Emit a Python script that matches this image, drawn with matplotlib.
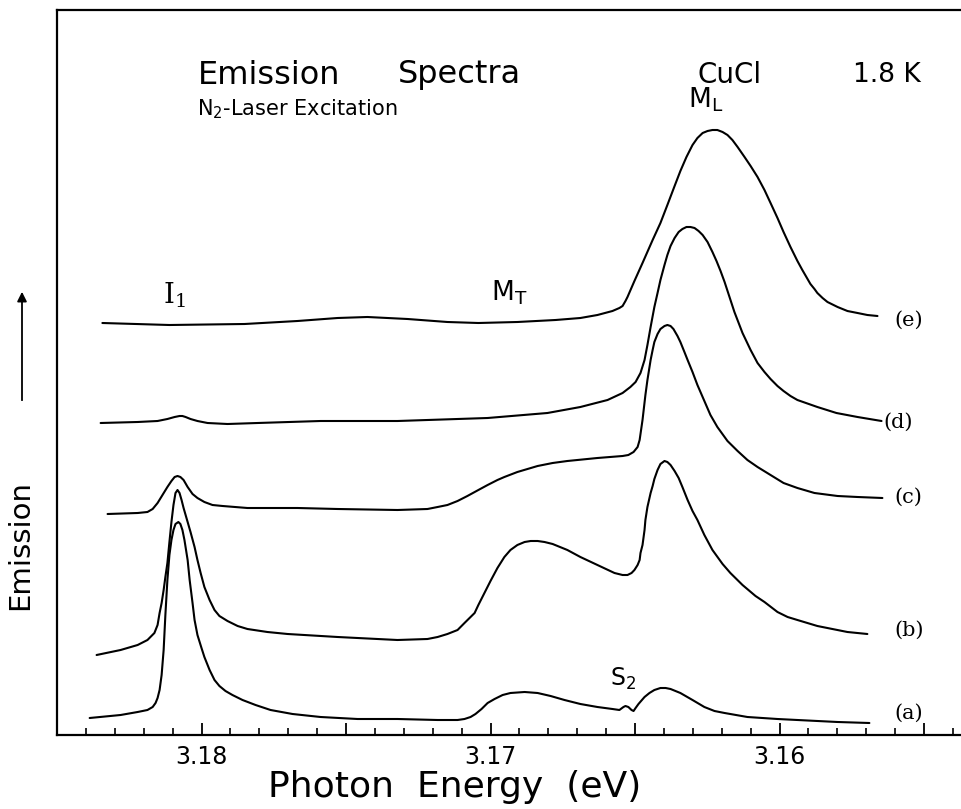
import matplotlib.pyplot as plt
from matplotlib.ticker import MultipleLocator, FuncFormatter

# (photon energy in eV, emission in arb. units)
spec_a = [(3.18387, 1.7), (3.18280, 2.0), (3.18221, 2.3), (3.18187, 2.5), (3.18169, 2.8),
          (3.18159, 3.2), (3.18152, 3.7), (3.18145, 4.5), (3.18138, 6.0), (3.18131, 8.5),
          (3.18125, 12.0), (3.18118, 15.5), (3.18111, 18.0), (3.18104, 19.5), (3.18097, 20.5),
          (3.18090, 21.1), (3.18080, 21.3), (3.18073, 21.1), (3.18066, 20.5), (3.18059, 19.5),
          (3.18048, 17.5), (3.18041, 15.5), (3.18031, 13.2), (3.18024, 11.5), (3.18014, 10.0),
          (3.18000, 8.7), (3.17990, 7.8), (3.17972, 6.5), (3.17955, 5.5), (3.17938, 4.9),
          (3.17917, 4.4), (3.17893, 4.0), (3.17858, 3.5), (3.17813, 3.0), (3.17761, 2.5),
          (3.17685, 2.1), (3.17588, 1.8), (3.17460, 1.6), (3.17322, 1.6), (3.17183, 1.5),
          (3.17114, 1.5), (3.17090, 1.6), (3.17069, 1.8), (3.17052, 2.1), (3.17031, 2.6),
          (3.17010, 3.2), (3.16986, 3.6), (3.16958, 4.0), (3.16931, 4.2), (3.16882, 4.3),
          (3.16837, 4.2), (3.16792, 3.9), (3.16744, 3.5), (3.16689, 3.1), (3.16630, 2.8),
          (3.16578, 2.6), (3.16554, 2.5), (3.16540, 2.8), (3.16533, 2.9), (3.16523, 2.8),
          (3.16512, 2.5), (3.16505, 2.4), (3.16498, 2.7), (3.16488, 3.1), (3.16467, 3.8),
          (3.16450, 4.2), (3.16433, 4.5), (3.16412, 4.7), (3.16394, 4.7), (3.16377, 4.6),
          (3.16343, 4.2), (3.16301, 3.5), (3.16260, 2.8), (3.16225, 2.4), (3.16190, 2.2),
          (3.16111, 1.8), (3.16007, 1.6), (3.15938, 1.5), (3.15799, 1.3), (3.15689, 1.2)]

spec_b = [(3.18363, 8.0), (3.18280, 8.5), (3.18221, 9.0), (3.18187, 9.5), (3.18163, 10.2),
          (3.18152, 11.0), (3.18145, 12.2), (3.18138, 13.2), (3.18131, 14.5), (3.18125, 15.8),
          (3.18118, 17.2), (3.18111, 19.3), (3.18104, 21.3), (3.18097, 23.0), (3.18090, 24.2),
          (3.18083, 24.5), (3.18076, 24.2), (3.18069, 23.5), (3.18062, 22.7), (3.18055, 22.0),
          (3.18048, 21.3), (3.18038, 20.3), (3.18024, 18.8), (3.18014, 17.5), (3.18003, 16.2),
          (3.17990, 14.8), (3.17972, 13.5), (3.17955, 12.5), (3.17938, 11.9), (3.17910, 11.4),
          (3.17875, 10.9), (3.17841, 10.6), (3.17772, 10.3), (3.17702, 10.1), (3.17529, 9.8),
          (3.17322, 9.5), (3.17218, 9.6), (3.17183, 9.8), (3.17149, 10.1), (3.17114, 10.5),
          (3.17090, 11.2), (3.17069, 11.8), (3.17055, 12.2), (3.17042, 13.0), (3.17021, 14.2),
          (3.17000, 15.4), (3.16976, 16.7), (3.16952, 17.8), (3.16931, 18.5), (3.16907, 19.0),
          (3.16882, 19.3), (3.16861, 19.4), (3.16837, 19.4), (3.16813, 19.3), (3.16785, 19.1),
          (3.16734, 18.5), (3.16689, 17.8), (3.16630, 17.0), (3.16571, 16.2), (3.16543, 16.0),
          (3.16526, 16.0), (3.16512, 16.2), (3.16502, 16.5), (3.16491, 17.0), (3.16484, 17.5),
          (3.16481, 18.2), (3.16474, 19.0), (3.16467, 20.5), (3.16464, 21.5), (3.16457, 22.8),
          (3.16446, 24.2), (3.16439, 24.9), (3.16433, 25.6), (3.16422, 26.5), (3.16412, 27.1),
          (3.16398, 27.4), (3.16388, 27.3), (3.16377, 27.0), (3.16363, 26.4), (3.16349, 25.7),
          (3.16336, 24.8), (3.16318, 23.5), (3.16301, 22.4), (3.16284, 21.5), (3.16260, 20.0),
          (3.16232, 18.5), (3.16197, 17.1), (3.16170, 16.2), (3.16128, 15.0), (3.16083, 13.9),
          (3.16052, 13.3), (3.16007, 12.3), (3.15972, 11.8), (3.15938, 11.5), (3.15869, 10.9),
          (3.15765, 10.3), (3.15696, 10.1)]

spec_c = [(3.18325, 22.1), (3.18221, 22.2), (3.18187, 22.3), (3.18169, 22.6), (3.18152, 23.2),
          (3.18135, 24.0), (3.18118, 24.8), (3.18104, 25.4), (3.18093, 25.8), (3.18083, 25.9),
          (3.18073, 25.8), (3.18062, 25.5), (3.18048, 24.8), (3.18031, 24.1), (3.18014, 23.7),
          (3.17990, 23.3), (3.17962, 23.0), (3.17927, 22.9), (3.17841, 22.7), (3.17668, 22.7),
          (3.17529, 22.6), (3.17322, 22.5), (3.17218, 22.6), (3.17183, 22.8), (3.17149, 23.0),
          (3.17114, 23.4), (3.17080, 23.9), (3.17042, 24.5), (3.17010, 25.0), (3.16976, 25.5),
          (3.16952, 25.8), (3.16907, 26.3), (3.16837, 26.9), (3.16785, 27.2), (3.16734, 27.4),
          (3.16630, 27.7), (3.16543, 27.9), (3.16523, 28.0), (3.16505, 28.3), (3.16491, 28.8),
          (3.16484, 29.5), (3.16474, 31.5), (3.16464, 34.0), (3.16457, 35.5), (3.16446, 37.5),
          (3.16439, 38.5), (3.16433, 39.3), (3.16422, 40.1), (3.16412, 40.6), (3.16398, 40.9),
          (3.16388, 41.0), (3.16377, 40.9), (3.16367, 40.6), (3.16353, 39.9), (3.16343, 39.3),
          (3.16329, 38.3), (3.16318, 37.5), (3.16301, 36.3), (3.16284, 35.0), (3.16260, 33.4),
          (3.16239, 32.0), (3.16215, 30.8), (3.16180, 29.4), (3.16145, 28.4), (3.16111, 27.5),
          (3.16076, 26.8), (3.16031, 26.0), (3.15986, 25.2), (3.15938, 24.7), (3.15879, 24.2),
          (3.15799, 23.9), (3.15730, 23.8), (3.15644, 23.7)]

spec_d = [(3.18349, 31.2), (3.18221, 31.3), (3.18152, 31.4), (3.18118, 31.6), (3.18093, 31.8),
          (3.18076, 31.9), (3.18066, 31.9), (3.18055, 31.8), (3.18038, 31.6), (3.18014, 31.4),
          (3.17979, 31.2), (3.17910, 31.1), (3.17806, 31.2), (3.17588, 31.4), (3.17322, 31.4),
          (3.17010, 31.7), (3.16803, 32.2), (3.16689, 32.8), (3.16595, 33.5), (3.16543, 34.2),
          (3.16516, 34.8), (3.16498, 35.3), (3.16481, 36.2), (3.16467, 37.5), (3.16457, 39.0),
          (3.16446, 40.8), (3.16433, 42.8), (3.16422, 44.2), (3.16412, 45.5), (3.16398, 47.0),
          (3.16388, 48.0), (3.16377, 48.9), (3.16363, 49.7), (3.16349, 50.3), (3.16336, 50.6),
          (3.16322, 50.8), (3.16308, 50.8), (3.16294, 50.7), (3.16280, 50.4), (3.16266, 50.0),
          (3.16249, 49.3), (3.16232, 48.3), (3.16218, 47.4), (3.16204, 46.4), (3.16190, 45.3),
          (3.16173, 43.8), (3.16156, 42.3), (3.16128, 40.2), (3.16100, 38.5), (3.16076, 37.2),
          (3.16052, 36.3), (3.16031, 35.6), (3.16007, 34.9), (3.15986, 34.4), (3.15962, 33.9),
          (3.15938, 33.5), (3.15869, 32.8), (3.15803, 32.2), (3.15730, 31.8), (3.15647, 31.4)]

spec_e = [(3.18343, 41.2), (3.18111, 41.0), (3.17851, 41.1), (3.17668, 41.4), (3.17529, 41.7),
          (3.17426, 41.8), (3.17287, 41.6), (3.17149, 41.3), (3.17042, 41.2), (3.16907, 41.3),
          (3.16775, 41.5), (3.16689, 41.7), (3.16630, 42.0), (3.16578, 42.4), (3.16554, 42.7),
          (3.16543, 42.9), (3.16533, 43.4), (3.16526, 43.8), (3.16502, 45.4), (3.16474, 47.2),
          (3.16439, 49.5), (3.16412, 51.2), (3.16388, 53.0), (3.16363, 54.9), (3.16343, 56.4),
          (3.16322, 57.8), (3.16301, 59.0), (3.16284, 59.7), (3.16266, 60.2), (3.16249, 60.4),
          (3.16232, 60.5), (3.16215, 60.5), (3.16197, 60.3), (3.16180, 60.0), (3.16163, 59.5),
          (3.16145, 58.8), (3.16121, 57.8), (3.16100, 56.9), (3.16076, 55.8), (3.16052, 54.5),
          (3.16031, 53.2), (3.16007, 51.7), (3.15986, 50.3), (3.15962, 48.8), (3.15938, 47.4),
          (3.15921, 46.5), (3.15903, 45.6), (3.15893, 45.1), (3.15879, 44.6), (3.15869, 44.2),
          (3.15851, 43.7), (3.15834, 43.3), (3.15799, 42.8), (3.15765, 42.4), (3.15730, 42.2),
          (3.15696, 42.0), (3.15661, 41.9)]

spectra = [spec_a, spec_b, spec_c, spec_d, spec_e]
curve_labels = ["(a)", "(b)", "(c)", "(d)", "(e)"]
label_pos = [(3.15602, 2.2), (3.15602, 10.5), (3.15602, 23.8), (3.15640, 31.3), (3.15602, 41.5)]

fig = plt.figure(figsize=(9.61, 8.09), dpi=100)
ax = fig.add_axes([57 / 961, 74 / 809, 1 - 57 / 961, 725 / 809])

for pts in spectra:
    E, I = zip(*pts)
    ax.plot(E, I, color="black", lw=1.5, solid_joinstyle="round", solid_capstyle="round")

for lab, (x, y) in zip(curve_labels, label_pos):
    ax.text(x, y, lab, fontsize=15, family="DejaVu Serif", ha="left", va="center")

ax.set_xlim(3.18500, 3.15372)
ax.set_ylim(0, 72.5)

ax.spines["right"].set_visible(False)
for s in ["left", "top", "bottom"]:
    ax.spines[s].set_linewidth(1.6)

ax.xaxis.set_major_locator(MultipleLocator(0.005))
ax.xaxis.set_minor_locator(MultipleLocator(0.001))
ax.xaxis.set_major_formatter(FuncFormatter(
    lambda v, p: f"{v:.2f}" if abs(v * 100 - round(v * 100)) < 1e-6 else ""))
ax.tick_params(axis="x", which="major", direction="in", length=9, width=1.3,
               labelsize=17, pad=7, top=False)
ax.tick_params(axis="x", which="minor", direction="in", length=5, width=1.2, top=False)
ax.set_yticks([])

# annotations
ax.text(3.18014, 66.0, "Emission", fontsize=23, ha="left", va="center")
ax.text(3.17322, 66.0, "Spectra", fontsize=23, ha="left", va="center")
ax.text(3.16284, 66.0, "CuCl", fontsize=20, ha="left", va="center")
ax.text(3.15747, 66.0, "1.8 K", fontsize=19, ha="left", va="center")
ax.text(3.18014, 62.6, r"N$_2$-Laser Excitation", fontsize=15, ha="left", va="center")
ax.text(3.16256, 63.5, r"$\mathrm{M_L}$", fontsize=19, ha="center", va="center")
ax.text(3.16934, 44.2, r"$\mathrm{M_T}$", fontsize=19, ha="center", va="center")
ax.text(3.18093, 44.0, r"$\mathrm{I}_1$", fontsize=20, ha="center", va="center",
        math_fontfamily="dejavuserif")
ax.text(3.16543, 5.6, r"$\mathrm{S_2}$", fontsize=17, ha="center", va="center")

fig.text(455 / 961, 22 / 809, "Photon  Energy  (eV)", fontsize=26, ha="center", va="center")
fig.text(20 / 961, 264 / 809, "Emission", fontsize=21, rotation=90, ha="center", va="center")
fig.add_artist(plt.Line2D([22 / 961, 22 / 961], [409 / 809, 514 / 809], color="black", lw=1.3))
ax.annotate("", xy=(22 / 961, 520 / 809), xytext=(22 / 961, 505 / 809),
            xycoords="figure fraction", textcoords="figure fraction",
            arrowprops=dict(arrowstyle="-|>", color="black", lw=1.3, mutation_scale=14))

fig.savefig("out.png", dpi=100)
